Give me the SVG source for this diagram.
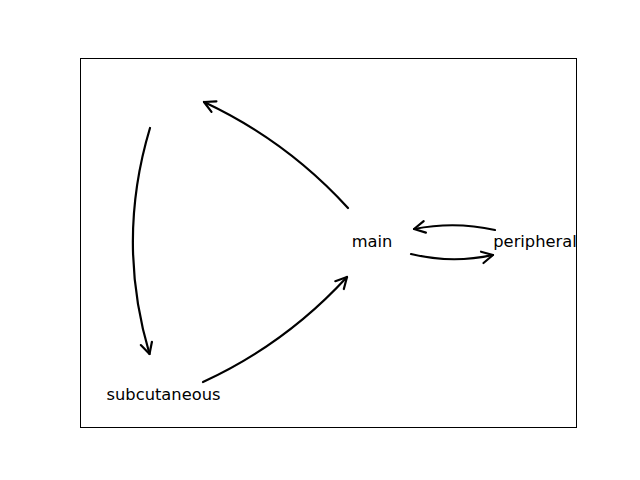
<svg xmlns="http://www.w3.org/2000/svg" width="640" height="480" viewBox="0 0 640 480">
<style>
.edge{fill:none;stroke:#000;stroke-width:2.2;stroke-linecap:round;marker-end:url(#arr)}
.lbl{font-family:"DejaVu Sans",sans-serif;font-size:16.3px;fill:#000;text-anchor:middle}
</style>
<defs>
<marker id="arr" markerUnits="userSpaceOnUse" markerWidth="30" markerHeight="30" viewBox="-15 -15 30 30" refX="0" refY="0" orient="auto">
<path d="M-11,-5.8 L0,0 L-11,5.8" fill="none" stroke="#000" stroke-width="2.2" stroke-linecap="round" stroke-linejoin="round"/>
</marker>
</defs>
<rect x="0" y="0" width="640" height="480" fill="#fff"/>
<rect x="80.5" y="58.5" width="496" height="369" fill="none" stroke="#000" stroke-width="1"/>
<g id="connectors">
<path class="edge" d="M348,208 Q286.6,140.7 204,102"/>
<path class="edge" d="M150,128 Q116,241 149.5,354"/>
<path class="edge" d="M203,382 Q285.5,344 347,277"/>
<path class="edge" d="M411,254 Q452,264 493,255"/>
<path class="edge" d="M495,230 Q455,221 414,229"/>
</g>
<g id="node-main"><text class="lbl" x="372" y="247">main</text></g>
<g id="node-peripheral"><text class="lbl" x="535" y="247">peripheral</text></g>
<g id="node-subcutaneous"><text class="lbl" x="163.5" y="400">subcutaneous</text></g>
</svg>
